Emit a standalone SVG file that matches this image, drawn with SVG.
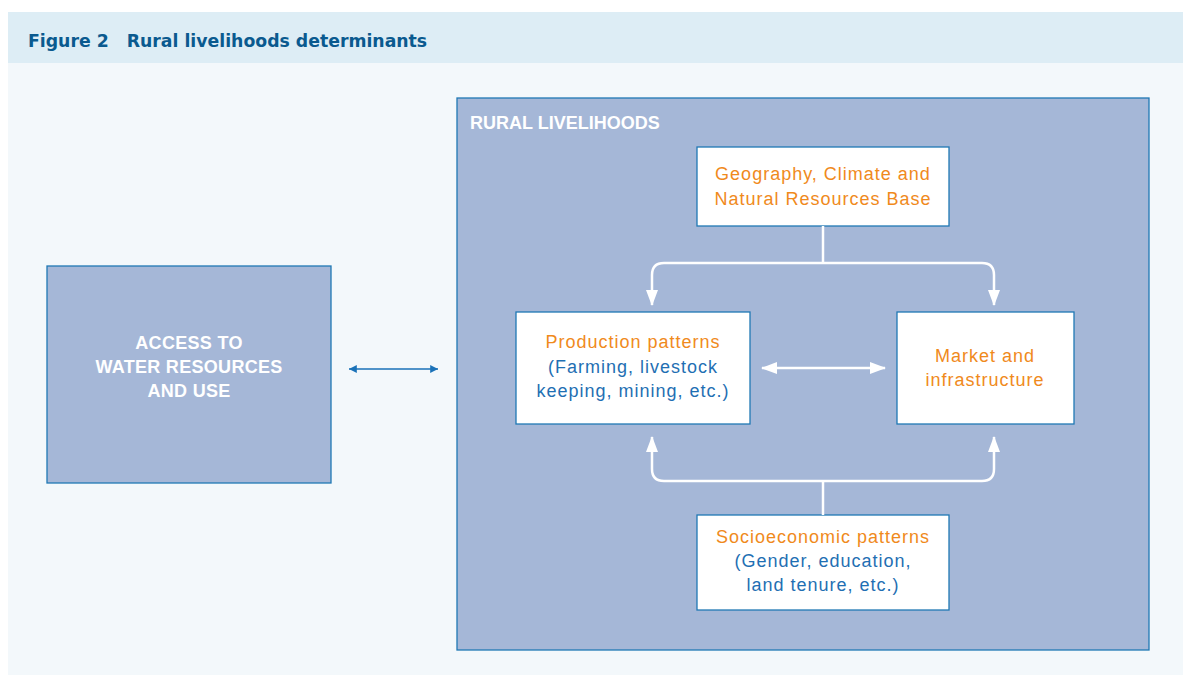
<svg xmlns="http://www.w3.org/2000/svg" width="1183" height="677" viewBox="0 0 1183 677">
<defs>
<style>
.box{fill:#a5b7d7;stroke:#1f78b4;stroke-width:1.3}
.wbox{fill:#ffffff;stroke:#1f78b4;stroke-width:1.3}
.t{font-family:"Liberation Sans",Arial,sans-serif;font-size:18px;letter-spacing:1px;text-anchor:middle}
.or{fill:#f08a1c}
.bl{fill:#1f6fb3}
.wb{fill:#ffffff;font-weight:bold;letter-spacing:0.3px}
.conn{fill:none;stroke:#ffffff;stroke-width:2.5}
</style>
<marker id="wa" viewBox="0 0 16 12" refX="15" refY="6" markerWidth="16" markerHeight="12" markerUnits="userSpaceOnUse" orient="auto-start-reverse">
<path d="M0,0 L16,6 L0,12 Z" fill="#ffffff"/>
</marker>
<marker id="ba" viewBox="0 0 10 10" refX="10" refY="5" markerWidth="8" markerHeight="6" markerUnits="strokeWidth" orient="auto-start-reverse">
<path d="M0,0 L10,5 L0,10 Z" fill="#1a72b8"/>
</marker>
</defs>
<rect x="0" y="0" width="1183" height="677" fill="#ffffff"/>
<rect x="8" y="12" width="1175" height="51" fill="#ddedf5"/>
<rect x="8" y="63" width="1175" height="612" fill="#f3f8fb"/>
<text x="28" y="47" font-family="'DejaVu Sans',sans-serif" font-weight="bold" font-size="17.3px" fill="#0a5a8f">Figure 2<tspan dx="18">Rural livelihoods determinants</tspan></text>

<g id="access">
<rect class="box" x="47" y="266" width="284" height="217"/>
<text class="t wb" x="189" y="349">ACCESS TO</text>
<text class="t wb" x="189" y="373">WATER RESOURCES</text>
<text class="t wb" x="189" y="397">AND USE</text>
</g>

<g id="rural">
<rect class="box" x="457" y="98" width="692" height="552"/>
<text x="470" y="129" font-family="'Liberation Sans',Arial,sans-serif" font-size="18px" font-weight="bold" fill="#ffffff">RURAL LIVELIHOODS</text>
</g>

<g id="geography">
<rect class="wbox" x="697" y="147" width="252" height="79"/>
<text class="t or" x="823" y="180">Geography, Climate and</text>
<text class="t or" x="823" y="205">Natural Resources Base</text>
</g>

<g id="production">
<rect class="wbox" x="516" y="312" width="234" height="112"/>
<text class="t or" x="633" y="348">Production patterns</text>
<text class="t bl" x="633" y="373">(Farming, livestock</text>
<text class="t bl" x="633" y="397">keeping, mining, etc.)</text>
</g>

<g id="market">
<rect class="wbox" x="897" y="312" width="177" height="112"/>
<text class="t or" x="985" y="362">Market and</text>
<text class="t or" x="985" y="386">infrastructure</text>
</g>

<g id="socio">
<rect class="wbox" x="697" y="515" width="252" height="95"/>
<text class="t or" x="823" y="543">Socioeconomic patterns</text>
<text class="t bl" x="823" y="567">(Gender, education,</text>
<text class="t bl" x="823" y="591">land tenure, etc.)</text>
</g>

<g id="connectors">
<line x1="349" y1="369" x2="438" y2="369" stroke="#1a72b8" stroke-width="1.3" marker-start="url(#ba)" marker-end="url(#ba)"/>
<path class="conn" d="M823,226 V263"/>
<path class="conn" d="M823,263 H664 Q652,263 652,275 V305" marker-end="url(#wa)"/>
<path class="conn" d="M823,263 H982 Q994,263 994,275 V305" marker-end="url(#wa)"/>
<path class="conn" d="M823,515 V481"/>
<path class="conn" d="M823,481 H664 Q652,481 652,469 V437" marker-end="url(#wa)"/>
<path class="conn" d="M823,481 H982 Q994,481 994,469 V437" marker-end="url(#wa)"/>
<line class="conn" x1="762" y1="368" x2="885" y2="368" marker-start="url(#wa)" marker-end="url(#wa)"/>
</g>
</svg>
